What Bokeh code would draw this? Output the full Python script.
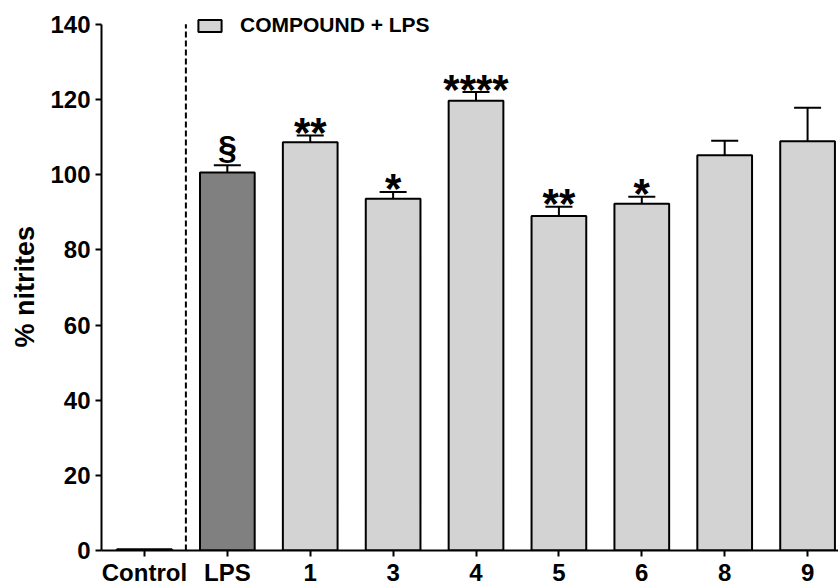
from bokeh.plotting import figure
from bokeh.models import (ColumnDataSource, Range1d, FixedTicker, Whisker, TeeHead,
                          Legend, LegendItem, Title)
from bokeh.core.properties import value
from bokeh.embed import file_html
from bokeh.resources import INLINE

# ---- data ----
categories = ["Control", "LPS", "1", "3", "4", "5", "6", "8", "9"]
means = [0.3, 100.6, 108.6, 93.6, 119.7, 89.0, 92.3, 105.2, 108.9]
sems = [0.0, 1.9, 1.8, 1.8, 2.3, 2.5, 1.8, 3.8, 8.9]
groups = ["control", "lps", "cmp", "cmp", "cmp", "cmp", "cmp", "cmp", "cmp"]
signif = ["", "§", "**", "*", "****", "**", "*", "", ""]
y_ticks = [0, 20, 40, 60, 80, 100, 120, 140]
legend_label = "COMPOUND + LPS"
y_label = "% nitrites"

fill_map = {"control": "#ffffff", "lps": "#808080", "cmp": "#d3d3d3"}

xs = list(range(len(categories)))
upper = [m + s for m, s in zip(means, sems)]
lower = [m - s for m, s in zip(means, sems)]
y_top = max(y_ticks)

FONT = "Liberation Sans"

p = figure(width=838, height=588, output_backend="svg", toolbar_location=None,
           x_range=Range1d(-0.518, 8.373), y_range=Range1d(0, 146.35),
           min_border_left=100, min_border_right=0, min_border_top=0, min_border_bottom=0)
p.outline_line_color = None
p.xgrid.visible = False
p.ygrid.visible = False
p.background_fill_color = "white"
p.border_fill_color = "white"

def sub(idx):
    return ColumnDataSource(dict(
        x=[xs[i] for i in idx], top=[means[i] for i in idx],
        fill=[fill_map[groups[i]] for i in idx]))

idx_ctrl = [i for i, g in enumerate(groups) if g == "control"]
idx_lps = [i for i, g in enumerate(groups) if g == "lps"]
idx_cmp = [i for i, g in enumerate(groups) if g == "cmp"]

for idx in (idx_ctrl, idx_lps):
    p.vbar(x="x", top="top", bottom=0, width=0.66, source=sub(idx),
           fill_color="fill", line_color="black", line_width=2)
r_cmp = p.vbar(x="x", top="top", bottom=0, width=0.66, source=sub(idx_cmp),
               fill_color="fill", line_color="black", line_width=2)

# error bars
eb_idx = [i for i in xs if sems[i] > 0]
eb_src = ColumnDataSource(dict(x=[xs[i] for i in eb_idx],
                               upper=[upper[i] for i in eb_idx],
                               lower=[lower[i] for i in eb_idx]))
w = Whisker(base="x", upper="upper", lower="lower", source=eb_src,
            line_width=2, line_color="black",
            upper_head=TeeHead(size=27, line_width=2, line_color="black"),
            lower_head=TeeHead(size=27, line_width=2, line_color="black"))
p.add_layout(w)

# separator between control and treated groups
sep_x = (xs[0] + xs[1]) / 2
p.segment(x0=[sep_x], y0=[0], x1=[sep_x], y1=[y_top], line_color="black",
          line_width=2, line_dash="6 3")

# significance marks
star_idx = [i for i in xs if signif[i].startswith("*")]
sect_idx = [i for i in xs if signif[i] == "§"]
p.text(x=[xs[i] for i in star_idx], y=[upper[i] for i in star_idx],
       text=[signif[i] for i in star_idx], text_font=value(FONT),
       text_font_style="bold", text_font_size="42px", text_align="center",
       text_baseline="alphabetic", y_offset=-3, text_color="black")
p.text(x=[xs[i] for i in sect_idx], y=[upper[i] for i in sect_idx],
       text=[signif[i] for i in sect_idx], text_font=value(FONT),
       text_font_style="bold", text_font_size="34px", text_align="center",
       text_baseline="alphabetic", y_offset=-18, text_color="black")

# axes
for ax in (p.xaxis[0], p.yaxis[0]):
    ax.axis_line_width = 2
    ax.axis_line_color = "black"
    ax.major_tick_line_width = 2
    ax.major_tick_line_color = "black"
    ax.major_tick_out = 6
    ax.major_tick_in = 0
    ax.minor_tick_line_color = None
    ax.major_label_text_font = FONT
    ax.major_label_text_font_style = "bold"
    ax.major_label_text_font_size = "24px"
    ax.major_label_text_color = "black"

p.xaxis.ticker = FixedTicker(ticks=xs)
p.xaxis.major_label_overrides = {x: c for x, c in zip(xs, categories)}
p.xaxis.major_label_standoff = 2
p.yaxis.ticker = FixedTicker(ticks=y_ticks)
p.yaxis.bounds = (0, y_top)
p.yaxis.major_label_standoff = 5

# y-axis title, centred on the 0..140 axis span
p.add_layout(Title(text=y_label, align="left", offset=203, standoff=15,
                   text_font=FONT, text_font_style="bold", text_font_size="27px",
                   text_color="black"), "left")

legend = Legend(items=[LegendItem(label=legend_label, renderers=[r_cmp])],
                location=(94, 513), glyph_width=29, glyph_height=15,
                label_standoff=16, padding=0, margin=0, spacing=0,
                border_line_color=None, background_fill_alpha=0,
                label_text_font=FONT, label_text_font_style="bold",
                label_text_font_size="21px", label_text_color="black")
p.add_layout(legend)

open("out.html", "w").write(file_html(p, INLINE))
